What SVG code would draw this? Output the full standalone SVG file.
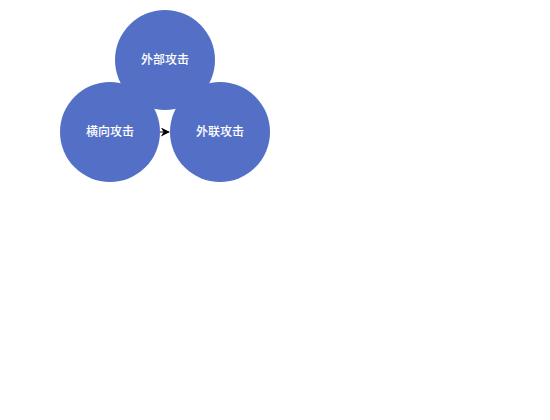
<svg xmlns="http://www.w3.org/2000/svg" width="550" height="420" viewBox="0 0 550 420">
<style>
.node circle{fill:#5470c6}
.node text{fill:#fff;font-family:"Liberation Sans","Noto Sans CJK SC",sans-serif;font-size:12px;font-weight:500;text-anchor:middle;dominant-baseline:central}
.edge{stroke:#000;stroke-width:1;fill:none}
</style>
<defs>
<marker id="arr" viewBox="0 0 10 10" refX="9" refY="5" markerWidth="9" markerHeight="9" markerUnits="userSpaceOnUse" orient="auto">
<path d="M0,0 L10,5 L0,10 L3,5 Z" fill="#000"/>
</marker>
</defs>
<rect width="550" height="420" fill="#fff"/>
<g id="connectors">
<line class="edge" x1="160" y1="132" x2="169" y2="132" marker-end="url(#arr)"/>
</g>
<g id="node-external" class="node">
<circle cx="165" cy="60" r="50"/>
<text x="165" y="60">外部攻击</text>
</g>
<g id="node-lateral" class="node">
<circle cx="110" cy="132" r="50"/>
<text x="110" y="132">横向攻击</text>
</g>
<g id="node-outbound" class="node">
<circle cx="220" cy="132" r="50"/>
<text x="220" y="132">外联攻击</text>
</g>
</svg>
